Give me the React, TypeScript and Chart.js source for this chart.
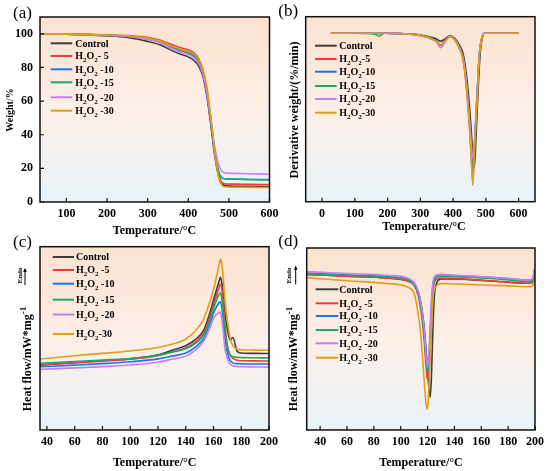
import { useEffect, useRef } from "react";
import { Chart, registerables } from "chart.js";

Chart.register(...registerables);

const SERIF = "'Liberation Serif', 'Times New Roman', serif";

const seriesColors = ["#3d3d3d", "#f23a3e", "#1c74e6", "#1fa865", "#c67ff0", "#e29d17"];

// (a) TGA weight %
const tgaTemp = [35, 100, 150, 200, 250, 300, 330, 360, 380, 400, 415, 425, 435, 445, 455, 465, 475, 485, 495, 520, 550, 600];
const tgaControl = [100, 99.7, 99.3, 98.8, 97.8, 95.5, 93.5, 90, 88, 86.3, 84, 81, 75.5, 64, 47, 28, 15, 10.5, 9.6, 9.4, 9.3, 9.2];
const tga5 = [100, 99.9, 99.7, 99.3, 98.9, 97.8, 96.3, 93.6, 91.8, 90.5, 88.6, 85.5, 79.5, 68, 50, 30, 16, 11.2, 10.7, 10.6, 10.5, 10.4];
const tga10 = [100, 99.8, 99.5, 99.1, 98.6, 97.0, 95.0, 91.8, 89.8, 88.3, 86.3, 83.2, 77.5, 66, 48.5, 29.5, 17.5, 14, 13.7, 13.5, 13.4, 13.3];
const tga15 = [100, 99.8, 99.6, 99.2, 98.7, 97.3, 95.5, 92.4, 90.4, 89.0, 87.0, 84.0, 78.3, 67, 49.5, 30.5, 18.2, 14.2, 13.8, 13.6, 13.4, 13.2];
const tga20 = [100, 99.8, 99.5, 99.1, 98.5, 96.8, 94.8, 91.3, 89.3, 87.8, 85.7, 82.7, 77, 66, 50, 33, 22, 17.8, 17.2, 17, 16.8, 16.5];
const tga30 = [100, 99.8, 99.5, 99.2, 98.7, 97.4, 95.8, 92.8, 90.8, 89.8, 88, 85.2, 80, 70, 52, 30, 14.5, 9.5, 8.9, 8.8, 8.7, 8.6];
const tgaXTicks = [100, 200, 300, 400, 500, 600];
const tgaYTicks = [0, 20, 40, 60, 80, 100];

// (b) DTG
const dtgTemp = [27, 100, 160, 175, 190, 250, 300, 330, 350, 362, 375, 390, 405, 420, 430, 440, 450, 455, 460, 465, 470, 475, 480, 485, 490, 495, 600];
const dtgControl = [0, 0, 0, 0, 0, -0.05, -0.2, -0.45, -0.7, -0.95, -0.7, -0.3, -0.6, -1.5, -2.4, -4.8, -8.8, -11.5, -14.5, -16.1, -12.5, -8, -4, -1.5, -0.4, 0, 0];
const dtg5 = [0, 0, 0, -0.05, 0, -0.05, -0.25, -0.6, -1.0, -1.5, -1.0, -0.4, -0.8, -1.9, -3.1, -6.2, -11.3, -14.6, -17.8, -14.2, -10.2, -6.3, -2.7, -1, -0.3, 0, 0];
const dtg10 = [0, 0, 0, 0, 0, -0.05, -0.25, -0.55, -0.95, -1.4, -0.95, -0.35, -0.75, -1.8, -2.9, -5.8, -10.5, -13.2, -15.4, -13.5, -9.8, -6, -2.6, -1, -0.3, 0, 0];
const dtg15 = [0, 0, -0.1, -0.35, 0, -0.05, -0.25, -0.55, -0.95, -1.45, -0.95, -0.35, -0.75, -1.8, -2.9, -5.9, -10.7, -13.7, -16.5, -14, -10, -6.1, -2.6, -1, -0.3, 0, 0];
const dtg20 = [0, 0, 0, 0, 0, -0.05, -0.3, -0.65, -1.1, -1.75, -1.1, -0.4, -0.75, -1.8, -2.9, -5.7, -10.3, -13, -15.1, -13.2, -9.6, -5.9, -2.5, -1, -0.3, 0, 0];
const dtg30 = [0, 0, 0, 0, 0, -0.05, -0.25, -0.6, -1.0, -1.4, -0.9, -0.4, -0.8, -1.9, -3.1, -6.3, -11.4, -14.8, -18.3, -14.3, -10.3, -6.4, -2.7, -1, -0.3, 0, 0];
const dtgXTicks = [0, 100, 200, 300, 400, 500, 600];

// (c) DSC melting
const meltTemp = [35, 60, 80, 100, 120, 130, 140, 148, 153, 157, 160, 162, 164, 165, 166, 167, 168, 170, 172, 174, 177, 180, 190, 200];
const meltControl = [3.55, 3.68, 3.78, 3.88, 4.1, 4.35, 4.6, 5.0, 5.45, 6.3, 7.09, 7.6, 8.1, 8.33, 8.05, 7.4, 6.5, 5.5, 4.9, 5.05, 4.3, 4.2, 4.18, 4.17];
const melt5 = [3.55, 3.66, 3.76, 3.86, 4.05, 4.25, 4.47, 4.85, 5.28, 6.1, 6.82, 7.3, 7.8, 7.96, 7.7, 7.0, 6.0, 4.6, 4.1, 3.9, 3.8, 3.78, 3.77, 3.76];
const melt10 = [3.45, 3.54, 3.62, 3.72, 3.88, 4.03, 4.2, 4.58, 5.0, 5.7, 6.37, 6.7, 6.95, 7.0, 6.7, 6.0, 5.2, 4.2, 3.8, 3.66, 3.62, 3.61, 3.6, 3.6];
const melt15 = [3.64, 3.74, 3.82, 3.9, 4.08, 4.25, 4.43, 4.78, 5.18, 5.9, 6.64, 7.05, 7.4, 7.49, 7.2, 6.5, 5.6, 4.45, 4.1, 4.0, 3.96, 3.95, 3.94, 3.93];
const melt20 = [3.31, 3.39, 3.46, 3.55, 3.7, 3.86, 4.03, 4.42, 4.85, 5.5, 6.09, 6.3, 6.4, 6.42, 6.1, 5.4, 4.6, 3.9, 3.6, 3.5, 3.46, 3.45, 3.44, 3.43];
const melt30 = [3.87, 4.05, 4.18, 4.31, 4.5, 4.68, 4.95, 5.5, 6.05, 6.9, 7.64, 8.3, 9.0, 9.31, 9.05, 8.4, 7.3, 6.0, 5.0, 4.6, 4.42, 4.38, 4.36, 4.35];
const meltXTicks = [40, 60, 80, 100, 120, 140, 160, 180, 200];

// (d) DSC crystallization
const crysTemp = [30, 60, 90, 105, 110, 113, 115, 117, 118, 119, 120, 121, 122, 123, 124, 125, 127, 130, 140, 160, 180, 195, 198, 200];
const crysControl = [8.55, 8.45, 8.35, 8.2, 8.0, 7.6, 7.0, 6.0, 5.2, 4.3, 3.3, 2.3, 1.8, 3.2, 5.6, 7.3, 8.1, 8.3, 8.3, 8.22, 8.12, 8.06, 8.1, 8.7];
const crys5 = [8.55, 8.45, 8.35, 8.2, 7.95, 7.4, 6.6, 5.3, 4.4, 3.4, 2.75, 3.5, 5.0, 6.6, 7.7, 8.1, 8.3, 8.35, 8.32, 8.23, 8.13, 8.06, 8.15, 8.8];
const crys10 = [8.61, 8.52, 8.42, 8.3, 8.05, 7.55, 6.85, 5.7, 4.8, 3.9, 3.3, 3.8, 5.3, 7.0, 8.0, 8.35, 8.5, 8.52, 8.48, 8.42, 8.32, 8.24, 8.3, 8.9];
const crys15 = [8.61, 8.5, 8.4, 8.25, 8.0, 7.5, 6.8, 5.6, 4.7, 3.8, 3.2, 3.3, 4.7, 6.5, 7.7, 8.2, 8.4, 8.45, 8.42, 8.35, 8.25, 8.15, 8.2, 8.85];
const crys20 = [8.7, 8.6, 8.5, 8.35, 8.1, 7.65, 6.95, 5.9, 5.0, 4.0, 3.45, 4.2, 5.8, 7.3, 8.1, 8.4, 8.52, 8.55, 8.5, 8.42, 8.32, 8.24, 8.3, 8.95];
const crys30 = [8.37, 8.2, 8.05, 7.85, 7.5, 6.4, 5.2, 3.2, 2.2, 1.4, 1.15, 2.4, 4.0, 5.8, 7.2, 7.7, 7.95, 8.05, 8.02, 7.97, 7.92, 7.87, 7.9, 8.35];
const crysXTicks = [40, 60, 80, 100, 120, 140, 160, 180, 200];

const legendA = ["Control", "H_{2}O_{2}- 5", "H_{2}O_{2} -10", "H_{2}O_{2} -15", "H_{2}O_{2} -20", "H_{2}O_{2} -30"];
const legendB = ["Control", "H_{2}O_{2}-5", "H_{2}O_{2}-10", "H_{2}O_{2}-15", "H_{2}O_{2}-20", "H_{2}O_{2}-30"];
const legendC = ["Control", "H_{2}O_{2} -5", "H_{2}O_{2} -10", "H_{2}O_{2} -15", "H_{2}O_{2} -20", "H_{2}O_{2}-30"];
const legendD = ["Control", "H_{2}O_{2} -5", "H_{2}O_{2} -10", "H_{2}O_{2} -15", "H_{2}O_{2} -20", "H_{2}O_{2} -30"];

type PanelSpec = {
  left: number; top: number; width: number; height: number;
  area: { left: number; top: number; right: number; bottom: number };
  xs: number[]; ys: number[][];
  xMin: number; xMax: number; xTicks: number[];
  yMin: number; yMax: number; yTicks?: number[];
  tag: string; tagPos: [number, number];
  xTitlePos: [number, number];
  yTitle: string; yTitlePos: [number, number]; yTitleSize: number;
  legend: string[]; legendRows: number[]; legendLine: [number, number]; legendText: number;
  endo?: { text: [number, number]; arrow: [number, number, number] };
};

function drawRich(ctx: CanvasRenderingContext2D, text: string, x: number, y: number, size: number, center: boolean) {
  const segs: { t: string; k: number }[] = [];
  const re = /([_^])\{([^}]*)\}/g;
  let last = 0;
  let m: RegExpExecArray | null;
  while ((m = re.exec(text))) {
    if (m.index > last) segs.push({ t: text.slice(last, m.index), k: 0 });
    segs.push({ t: m[2], k: m[1] === "_" ? 1 : -1 });
    last = re.lastIndex;
  }
  if (last < text.length) segs.push({ t: text.slice(last), k: 0 });
  const fontFor = (k: number) => `bold ${k === 0 ? size : Math.round(size * 0.72)}px ${SERIF}`;
  let w = 0;
  for (const s of segs) { ctx.font = fontFor(s.k); w += ctx.measureText(s.t).width; }
  let cx = center ? x - w / 2 : x;
  ctx.textAlign = "left";
  ctx.textBaseline = "alphabetic";
  const base = y + size * 0.34;
  for (const s of segs) {
    ctx.font = fontFor(s.k);
    const dy = s.k === 1 ? size * 0.28 : s.k === -1 ? -size * 0.42 : 0;
    ctx.fillText(s.t, cx, base + dy);
    cx += ctx.measureText(s.t).width;
  }
}

const decor = (spec: PanelSpec) => ({
  id: "decor",
  beforeDatasetsDraw(chart: Chart) {
    const { ctx, chartArea: ca } = chart;
    const g = ctx.createLinearGradient(0, ca.top, 0, ca.bottom);
    g.addColorStop(0, "#fbe2cf");
    g.addColorStop(0.5, "#fdefe7");
    g.addColorStop(1, "#e8f3f9");
    ctx.save();
    ctx.fillStyle = g;
    ctx.fillRect(ca.left, ca.top, ca.right - ca.left, ca.bottom - ca.top);
    ctx.restore();
  },
  afterDatasetsDraw(chart: Chart) {
    const { ctx, chartArea: ca } = chart;
    ctx.save();
    ctx.strokeStyle = "#111";
    ctx.lineWidth = 1.5;
    ctx.strokeRect(ca.left, ca.top, ca.right - ca.left, ca.bottom - ca.top);
    ctx.lineWidth = 1.2;
    ctx.beginPath();
    for (const v of spec.xTicks) {
      const px = chart.scales.x.getPixelForValue(v);
      ctx.moveTo(px, ca.bottom);
      ctx.lineTo(px, ca.bottom - 4);
    }
    if (spec.yTicks) {
      for (const v of spec.yTicks) {
        const py = chart.scales.y.getPixelForValue(v);
        ctx.moveTo(ca.left, py);
        ctx.lineTo(ca.left + 4, py);
      }
    }
    ctx.stroke();
    ctx.restore();
  },
  afterDraw(chart: Chart) {
    const { ctx, chartArea: ca } = chart;
    ctx.save();
    ctx.fillStyle = "#000";
    // panel tag
    ctx.font = `17px ${SERIF}`;
    ctx.textAlign = "left";
    ctx.textBaseline = "middle";
    ctx.fillText(spec.tag, spec.tagPos[0], spec.tagPos[1]);
    // x title
    drawRich(ctx, "Temperature/°C", spec.xTitlePos[0], spec.xTitlePos[1], 12, true);
    // y title
    ctx.save();
    ctx.translate(spec.yTitlePos[0], spec.yTitlePos[1]);
    ctx.rotate(-Math.PI / 2);
    drawRich(ctx, spec.yTitle, 0, 0, spec.yTitleSize, true);
    ctx.restore();
    // endo marker
    if (spec.endo) {
      ctx.save();
      ctx.translate(spec.endo.text[0], spec.endo.text[1]);
      ctx.rotate(-Math.PI / 2);
      ctx.font = `bold 7px ${SERIF}`;
      ctx.textAlign = "center";
      ctx.textBaseline = "middle";
      ctx.fillText("Endo", 0, 0);
      ctx.restore();
      const [ax, ay1, ay2] = spec.endo.arrow;
      ctx.strokeStyle = "#000";
      ctx.lineWidth = 1;
      ctx.beginPath();
      ctx.moveTo(ax, ay2);
      ctx.lineTo(ax, ay1);
      ctx.stroke();
      ctx.beginPath();
      ctx.moveTo(ax, ay1 - 1);
      ctx.lineTo(ax - 1.8, ay1 + 3);
      ctx.lineTo(ax + 1.8, ay1 + 3);
      ctx.closePath();
      ctx.fill();
    }
    // legend
    spec.legend.forEach((label, i) => {
      const y = spec.legendRows[i];
      ctx.strokeStyle = seriesColors[i];
      ctx.lineWidth = 2;
      ctx.beginPath();
      ctx.moveTo(spec.legendLine[0], y);
      ctx.lineTo(spec.legendLine[1], y);
      ctx.stroke();
      ctx.fillStyle = "#000";
      drawRich(ctx, label, spec.legendText, y, 10, false);
    });
    ctx.restore();
    void ca;
  },
});

function buildConfig(spec: PanelSpec): any {
  const a = spec.area;
  const tickFont = { family: SERIF, size: 12, weight: "bold" as const };
  return {
    type: "line",
    data: {
      datasets: spec.ys.map((vals, i) => ({
        data: spec.xs.map((x, k) => ({ x, y: vals[k] })),
        borderColor: seriesColors[i],
        borderWidth: 1.6,
        pointRadius: 0,
        cubicInterpolationMode: "monotone",
        fill: false,
        order: spec.ys.length - i,
      })),
    },
    options: {
      responsive: false,
      animation: false,
      events: [],
      layout: {
        padding: {
          left: spec.yTicks ? 0 : a.left,
          top: a.top,
          right: spec.width - a.right,
          bottom: spec.height - a.bottom - 33,
        },
      },
      plugins: { legend: { display: false }, tooltip: { enabled: false } },
      scales: {
        x: {
          type: "linear",
          min: spec.xMin,
          max: spec.xMax,
          grid: { display: false, drawTicks: false },
          border: { display: false },
          ticks: { font: tickFont, color: "#000", padding: 5, maxRotation: 0, autoSkip: false },
          afterBuildTicks: (s: any) => { s.ticks = spec.xTicks.map((v) => ({ value: v })); },
          afterFit: (s: any) => { s.height = 33; s.paddingLeft = 0; s.paddingRight = 0; },
        },
        y: {
          type: "linear",
          display: !!spec.yTicks,
          min: spec.yMin,
          max: spec.yMax,
          grid: { display: false, drawTicks: false },
          border: { display: false },
          ticks: { font: tickFont, color: "#000", padding: 7 },
          afterBuildTicks: (s: any) => { if (spec.yTicks) s.ticks = spec.yTicks.map((v) => ({ value: v })); },
          afterFit: (s: any) => {
            if (spec.yTicks) { s.width = a.left; s.paddingTop = 0; s.paddingBottom = 0; }
          },
        },
      },
    },
    plugins: [decor(spec)],
  };
}

const panels: PanelSpec[] = [
  {
    left: 0, top: 0, width: 285, height: 240,
    area: { left: 40, top: 17, right: 269.5, bottom: 202 },
    xs: tgaTemp, ys: [tgaControl, tga5, tga10, tga15, tga20, tga30],
    xMin: 35, xMax: 600, xTicks: tgaXTicks, yMin: 0, yMax: 110, yTicks: tgaYTicks,
    tag: "(a)", tagPos: [13, 14], xTitlePos: [154.5, 230],
    yTitle: "Weight/%", yTitlePos: [9.5, 110], yTitleSize: 10,
    legend: legendA, legendRows: [43.3, 56, 69.3, 82.3, 97.3, 110.7], legendLine: [50.7, 72.3], legendText: 75.3,
  },
  {
    left: 275, top: 0, width: 275, height: 240,
    area: { left: 30.7, top: 16.7, right: 260, bottom: 201.7 },
    xs: dtgTemp, ys: [dtgControl, dtg5, dtg10, dtg15, dtg20, dtg30],
    xMin: -50, xMax: 650, xTicks: dtgXTicks, yMin: -20.3, yMax: 2,
    tag: "(b)", tagPos: [3.3, 12], xTitlePos: [149, 226],
    yTitle: "Derivative weight/(%/min)", yTitlePos: [19.3, 110], yTitleSize: 12,
    legend: legendB, legendRows: [45.7, 59, 71.7, 86, 99, 112.7], legendLine: [40, 61.7], legendText: 64.3,
  },
  {
    left: 0, top: 235, width: 285, height: 236,
    area: { left: 40, top: 11.7, right: 269, bottom: 195 },
    xs: meltTemp, ys: [meltControl, melt5, melt10, melt15, melt20, melt30],
    xMin: 35, xMax: 200, xTicks: meltXTicks, yMin: 0, yMax: 10,
    tag: "(c)", tagPos: [13, 8], xTitlePos: [154.7, 226.7],
    yTitle: "Heat flow/mW*mg^{-1}", yTitlePos: [27, 124], yTitleSize: 12,
    legend: legendC, legendRows: [22, 35, 48.7, 64.7, 79.5, 99], legendLine: [52.7, 74], legendText: 76,
    endo: { text: [20.5, 40.5], arrow: [25, 34, 50] },
  },
  {
    left: 275, top: 235, width: 275, height: 236,
    area: { left: 31.7, top: 13, right: 260, bottom: 195 },
    xs: crysTemp, ys: [crysControl, crys5, crys10, crys15, crys20, crys30],
    xMin: 30, xMax: 200, xTicks: crysXTicks, yMin: 0, yMax: 10,
    tag: "(d)", tagPos: [3.3, 6.5], xTitlePos: [146, 226.7],
    yTitle: "Heat flow/mW*mg^{-1}", yTitlePos: [18.3, 124], yTitleSize: 12,
    legend: legendD, legendRows: [54.3, 68.3, 81, 95, 108.3, 122.7], legendLine: [40.7, 63.3], legendText: 64.3,
    endo: { text: [14, 40.5], arrow: [20.7, 31.7, 49.3] },
  },
];

function Panel({ spec }: { spec: PanelSpec }) {
  const ref = useRef<HTMLCanvasElement | null>(null);
  useEffect(() => {
    if (!ref.current) return;
    const chart = new Chart(ref.current, buildConfig(spec));
    return () => chart.destroy();
  }, [spec]);
  return (
    <canvas
      ref={ref}
      width={spec.width}
      height={spec.height}
      style={{ position: "absolute", left: spec.left, top: spec.top, width: spec.width, height: spec.height }}
    />
  );
}

export default function App() {
  return (
    <div style={{ position: "fixed", left: 0, top: 0, width: 550, height: 471, background: "#fff", overflow: "hidden" }}>
      {panels.map((p) => (
        <Panel key={p.tag} spec={p} />
      ))}
    </div>
  );
}
